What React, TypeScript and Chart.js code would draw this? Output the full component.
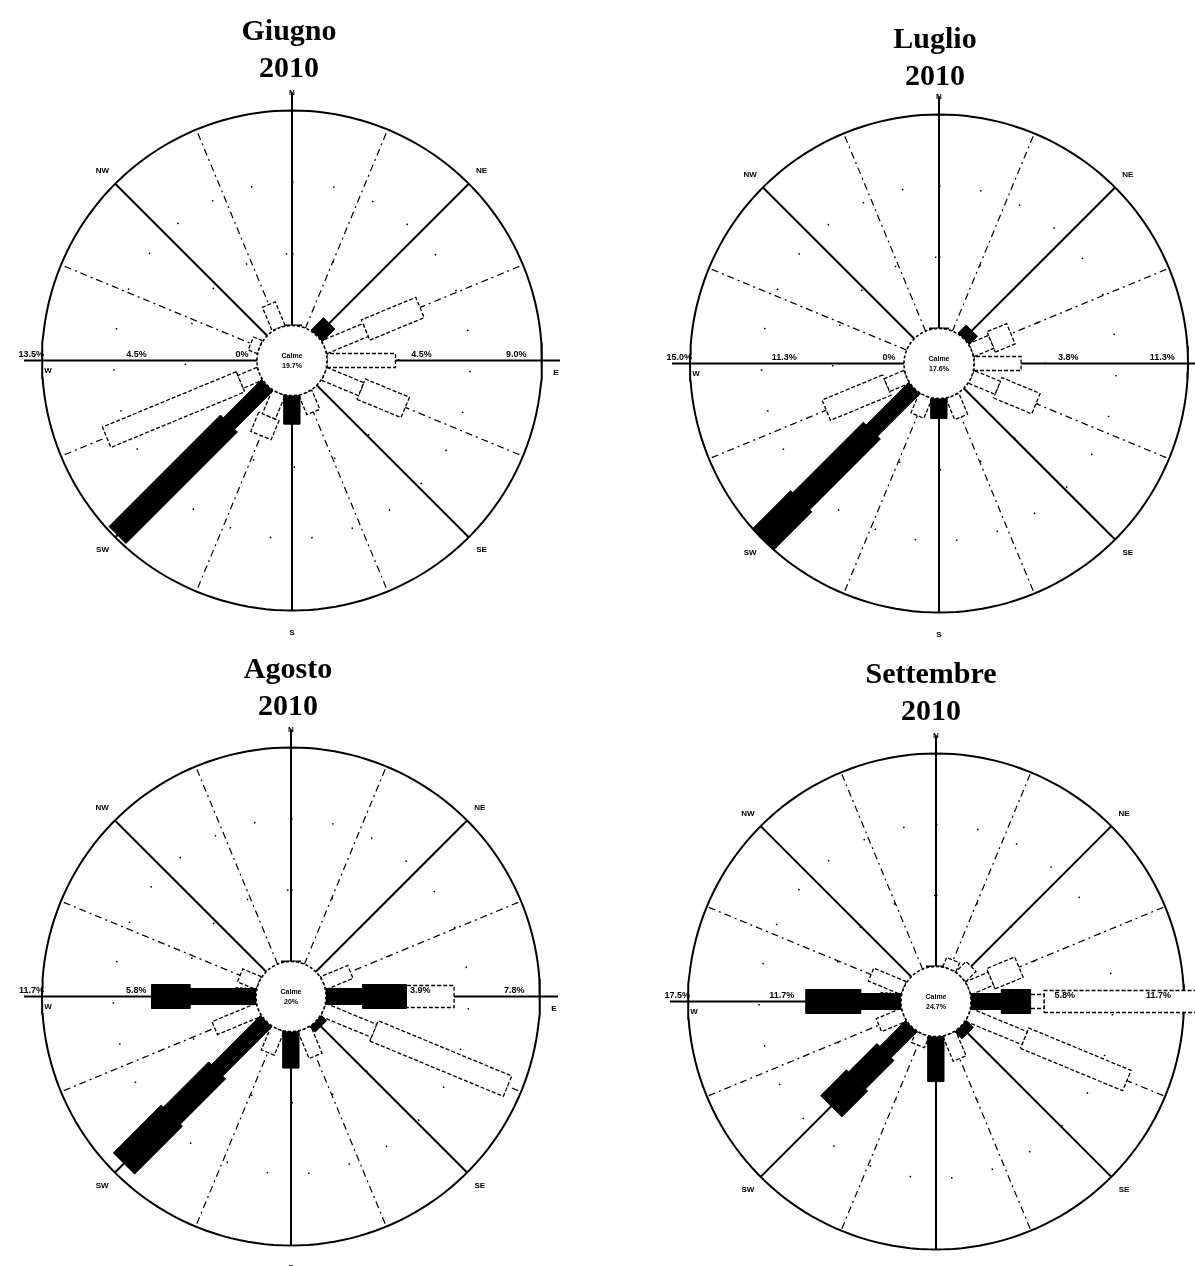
import React, { useEffect, useRef } from "react";
import { Chart, registerables } from "chart.js";

Chart.register(...registerables);

// ---------- data ----------
const DIRECTIONS = ["N", "NNE", "NE", "ENE", "E", "ESE", "SE", "SSE", "S", "SSW", "SW", "WSW", "W", "WNW", "NW", "NNW"];
const COMPASS_LABELS = ["N", "NE", "E", "SE", "S", "SW", "W", "NW"];

// Giugno 2010 (% frequency per direction, stacked speed classes)
const giugnoBlackA = [0, 0, 1.1, 0, 0, 0, 0, 0, 1.8, 0, 3.4, 0, 0, 0, 0, 0];
const giugnoBlackB = [0, 0, 0, 0, 0, 0, 0, 0, 0, 0, 9.9, 0, 0, 0, 0, 0];
const giugnoBlackC = [0, 0, 0, 0, 0, 0, 0, 0, 0, 0, 0, 0, 0, 0, 0, 0];
const giugnoOpenA = [0, 0, 0, 2.8, 4.3, 2.5, 0, 1.3, 0, 1.6, 0, 1.3, 0, 0.6, 0, 1.6];
const giugnoOpenB = [0, 0, 0, 3.7, 0, 3.0, 0, 0, 0, 1.3, 0, 9.1, 0, 0, 0, 0];
const giugnoLeftTicks = ["13.5%", "4.5%", "0%"];
const giugnoRightTicks = ["4.5%", "9.0%"];

// Luglio 2010
const luglioBlackA = [0, 0, 0.8, 0, 0, 0, 0, 0, 1.4, 0, 4.2, 0, 0, 0, 0, 0];
const luglioBlackB = [0, 0, 0, 0, 0, 0, 0, 0, 0, 0, 7.0, 0, 0, 0, 0, 0];
const luglioBlackC = [0, 0, 0, 0, 0, 0, 0, 0, 0, 0, 3.8, 0, 0, 0, 0, 0];
const luglioOpenA = [0, 0, 0, 1.5, 3.3, 2.0, 0, 1.6, 0, 1.5, 0, 1.5, 0, 0, 0, 0];
const luglioOpenB = [0, 0, 0, 1.5, 0, 2.9, 0, 0, 0, 0, 0, 4.6, 0, 0, 0, 0];
const luglioLeftTicks = ["15.0%", "11.3%", "0%"];
const luglioRightTicks = ["3.8%", "11.3%"];

// Agosto 2010
const agostoBlackA = [0, 0, 0, 0, 2.0, 0, 0.4, 0, 2.0, 0, 3.8, 0, 3.6, 0, 0, 0];
const agostoBlackB = [0, 0, 0, 0, 2.4, 0, 0, 0, 0, 0, 3.5, 0, 2.1, 0, 0, 0];
const agostoBlackC = [0, 0, 0, 0, 0, 0, 0, 0, 0, 0, 3.7, 0, 0, 0, 0, 0];
const agostoOpenA = [0, 0, 0, 1.6, 3.0, 3.0, 0, 1.6, 0, 1.4, 0, 2.6, 0, 1.1, 0, 0];
const agostoOpenB = [0, 0, 0, 0, 4.0, 7.9, 0, 0, 0, 0, 0, 0, 0, 0, 0, 0];
const agostoLeftTicks = ["11.7%", "5.8%", "0%"];
const agostoRightTicks = ["3.9%", "7.8%"];

// Settembre 2010
const settembreBlackA = [0, 0, 0, 0, 2.5, 0, 0.8, 0, 3.7, 0, 3.0, 0, 3.3, 0, 0, 0];
const settembreBlackB = [0, 0, 0, 0, 2.4, 0, 0, 0, 0, 0, 3.3, 0, 4.5, 0, 0, 0];
const settembreBlackC = [0, 0, 0, 0, 0, 0, 0, 0, 0, 0, 3.0, 0, 0, 0, 0, 0];
const settembreOpenA = [0, 0.8, 1.2, 2.0, 6.0, 5.0, 0, 2.2, 0, 1.0, 0, 2.2, 0, 2.9, 0, 0];
const settembreOpenB = [0, 0, 0, 2.5, 16.0, 9.1, 0, 0, 0, 0, 0, 0, 0, 0, 0, 0];
const settembreLeftTicks = ["17.5%", "11.7%", "0%"];
const settembreRightTicks = ["5.8%", "11.7%"];

// ---------- layout / style ----------
const PANEL_W = 600;
const PANEL_H = 650;
const TITLE_TOP = 12;
const TITLE_LH = 37;
const CALM_PX = 35;
const BLACK_W = [16, 24, 30];
const OPEN_W = [14, 22];

type Panel = {
  title: string[];
  max: number;
  calm: string;
  black: number[][];
  open: number[][];
  leftTicks: string[];
  rightTicks: string[];
  tx: number;
  ty: number;
  cx: number;
  cy: number;
  r: number;
};

const PANELS: Panel[] = [
  {
    title: ["Giugno", "2010"], max: 13.5, calm: "19.7%",
    black: [giugnoBlackA, giugnoBlackB, giugnoBlackC], open: [giugnoOpenA, giugnoOpenB],
    leftTicks: giugnoLeftTicks, rightTicks: giugnoRightTicks,
    tx: 289, ty: 32, cx: 292, cy: 360, r: 250,
  },
  {
    title: ["Luglio", "2010"], max: 15, calm: "17.6%",
    black: [luglioBlackA, luglioBlackB, luglioBlackC], open: [luglioOpenA, luglioOpenB],
    leftTicks: luglioLeftTicks, rightTicks: luglioRightTicks,
    tx: 935, ty: 40, cx: 939, cy: 363, r: 249,
  },
  {
    title: ["Agosto", "2010"], max: 11.7, calm: "20%",
    black: [agostoBlackA, agostoBlackB, agostoBlackC], open: [agostoOpenA, agostoOpenB],
    leftTicks: agostoLeftTicks, rightTicks: agostoRightTicks,
    tx: 288, ty: 670, cx: 291, cy: 996, r: 249,
  },
  {
    title: ["Settembre", "2010"], max: 17.5, calm: "24.7%",
    black: [settembreBlackA, settembreBlackB, settembreBlackC], open: [settembreOpenA, settembreOpenB],
    leftTicks: settembreLeftTicks, rightTicks: settembreRightTicks,
    tx: 931, ty: 675, cx: 936, cy: 1001, r: 248,
  },
];

type Pt = { x: number; y: number };
const pol = (r: number, deg: number): Pt => {
  const a = (deg * Math.PI) / 180;
  return { x: r * Math.sin(a), y: r * Math.cos(a) };
};
const circlePts = (r: number): Pt[] => {
  const pts: Pt[] = [];
  for (let d = 0; d <= 360; d += 2) pts.push(pol(r, d));
  return pts;
};
const rectPts = (r0: number, r1: number, deg: number, hw: number): Pt[] => {
  const a = (deg * Math.PI) / 180;
  const s = Math.sin(a), c = Math.cos(a);
  const P = (r: number, w: number) => ({ x: r * s + w * c, y: r * c - w * s });
  return [P(r0, hw), P(r1, hw), P(r1, -hw), P(r0, -hw), P(r0, hw)];
};

function RosePanel({ p }: { p: Panel }) {
  const ref = useRef<HTMLCanvasElement>(null);
  const X0 = p.tx - PANEL_W / 2;
  const Y0 = p.ty - TITLE_TOP - TITLE_LH / 2;

  useEffect(() => {
    if (!ref.current) return;
    const k = (p.r - CALM_PX) / p.max; // px per %
    const off = CALM_PX / k;
    const outer = off + p.max;
    const cx = p.cx - X0;
    const cy = p.cy - Y0;
    const areaTop = TITLE_TOP + 2 * TITLE_LH;
    const xmin = -cx / k, xmax = (PANEL_W - cx) / k;
    const ymax = (cy - areaTop) / k, ymin = -(PANEL_H - cy) / k;

    const base = { showLine: true, pointRadius: 0, pointHoverRadius: 0, tension: 0 };
    const datasets: any[] = [];

    // outer circle
    datasets.push({ ...base, data: circlePts(outer), borderColor: "#000", borderWidth: 2, fill: false, order: 60 });
    // sparse dotted rings
    [1 / 3, 2 / 3].forEach((f) =>
      datasets.push({ ...base, data: circlePts(off + p.max * f), borderColor: "#000", borderWidth: 1.6, borderDash: [1.5, 40], fill: false, order: 59 })
    );
    // spokes
    DIRECTIONS.forEach((_, i) => {
      const deg = i * 22.5;
      const main = i % 2 === 0;
      const cardinal = i % 4 === 0;
      let end = outer;
      if (cardinal && i !== 8) end = outer + 18 / k;
      if (i === 4 && p.title[0] === "Settembre") end = outer + 60 / k;
      datasets.push({
        ...base,
        data: [pol(off, deg), pol(end, deg)],
        borderColor: "#000",
        borderWidth: main ? 2 : 1.2,
        borderDash: main ? [] : [7, 4, 2, 4],
        fill: false,
        order: 55,
      });
    });
    // T cap at north
    datasets.push({ ...base, data: [{ x: -10 / k, y: off }, { x: 10 / k, y: off }], borderColor: "#000", borderWidth: 2, fill: false, order: 54 });

    // open (white) bars
    DIRECTIONS.forEach((_, i) => {
      let r0 = off;
      p.open.forEach((series, c) => {
        const v = series[i];
        if (v > 0) {
          datasets.push({
            ...base,
            data: rectPts(r0, r0 + v, i * 22.5, OPEN_W[c] / 2 / k),
            borderColor: "#000",
            backgroundColor: "#fff",
            borderWidth: 1.3,
            borderDash: [4, 2],
            fill: "shape",
            order: 30,
          });
          r0 += v;
        }
      });
    });
    // black bars
    DIRECTIONS.forEach((_, i) => {
      let r0 = off;
      p.black.forEach((series, c) => {
        const v = series[i];
        if (v > 0) {
          datasets.push({
            ...base,
            data: rectPts(r0, r0 + v, i * 22.5, BLACK_W[c] / 2 / k),
            borderColor: "#000",
            backgroundColor: "#000",
            borderWidth: 1,
            fill: "shape",
            order: 20,
          });
          r0 += v;
        }
      });
    });
    // calm circle
    datasets.push({ ...base, data: circlePts(off), borderColor: "#000", backgroundColor: "#fff", borderWidth: 1.6, borderDash: [3, 2], fill: "shape", order: 5 });

    const textPlugin = {
      id: "roseText" + p.title[0],
      afterDraw(chart: any) {
        const ctx = chart.ctx as CanvasRenderingContext2D;
        const xs = chart.scales.x, ys = chart.scales.y;
        const X = (u: number) => xs.getPixelForValue(u);
        const Y = (u: number) => ys.getPixelForValue(u);
        const ox = X(0), oy = Y(0);
        const R = outer * k;
        ctx.save();
        ctx.fillStyle = "#000";
        // compass labels
        ctx.font = 'bold 8px "Liberation Sans", sans-serif';
        ctx.textAlign = "center";
        ctx.textBaseline = "middle";
        COMPASS_LABELS.forEach((lab, j) => {
          const deg = j * 45;
          let px = ox, py = oy;
          if (lab === "E") { px = ox + R + 14; py = oy + 12; }
          else if (lab === "W") { px = ox - R + 6; py = oy + 10; }
          else {
            const extra = lab === "S" ? 22 : 18;
            const q = pol(R + extra, deg);
            px = ox + q.x; py = oy - q.y;
          }
          ctx.fillText(lab, px, py);
        });
        // tick labels on the W-E axis
        ctx.font = 'bold 9px "Liberation Sans", sans-serif';
        ctx.textBaseline = "bottom";
        const rad = (f: number) => CALM_PX + f * (R - CALM_PX);
        const leftPos = [1, 0.56, 0.07];
        p.leftTicks.forEach((t, j) => {
          if (j === 0) {
            ctx.textAlign = "right";
            ctx.fillText(t, ox - R + 2, oy - 1);
          } else {
            ctx.textAlign = "center";
            ctx.fillText(t, ox - rad(leftPos[j]), oy - 1);
          }
        });
        const rightPos = [0.44, 0.88];
        ctx.textAlign = "center";
        p.rightTicks.forEach((t, j) => ctx.fillText(t, ox + rad(rightPos[j]), oy - 1));
        // calm text
        ctx.font = 'bold 7px "Liberation Sans", sans-serif';
        ctx.textBaseline = "middle";
        ctx.fillText("Calme", ox, oy - 4);
        ctx.fillText(p.calm, ox, oy + 6);
        ctx.restore();
      },
    };

    const chart = new Chart(ref.current, {
      type: "scatter",
      data: { datasets },
      options: {
        animation: false,
        responsive: false,
        events: [],
        layout: { padding: 0 },
        scales: {
          x: { type: "linear", display: false, min: xmin, max: xmax },
          y: { type: "linear", display: false, min: ymin, max: ymax },
        },
        plugins: {
          legend: { display: false },
          tooltip: { enabled: false },
          title: {
            display: true,
            text: p.title,
            color: "#000",
            font: { family: '"Liberation Serif", "Times New Roman", serif', size: 30, weight: "bold", lineHeight: TITLE_LH + "px" },
            padding: { top: TITLE_TOP, bottom: 0 },
          },
        },
      } as any,
      plugins: [textPlugin],
    });
    return () => chart.destroy();
  }, [p]);

  return (
    <canvas
      ref={ref}
      width={PANEL_W}
      height={PANEL_H}
      style={{ position: "absolute", left: X0, top: Y0, width: PANEL_W, height: PANEL_H }}
    />
  );
}

export default function App() {
  return (
    <div style={{ position: "absolute", left: 0, top: 0, width: 1195, height: 1266, overflow: "hidden", background: "#fff" }}>
      {PANELS.map((p) => (
        <RosePanel key={p.title[0]} p={p} />
      ))}
    </div>
  );
}
